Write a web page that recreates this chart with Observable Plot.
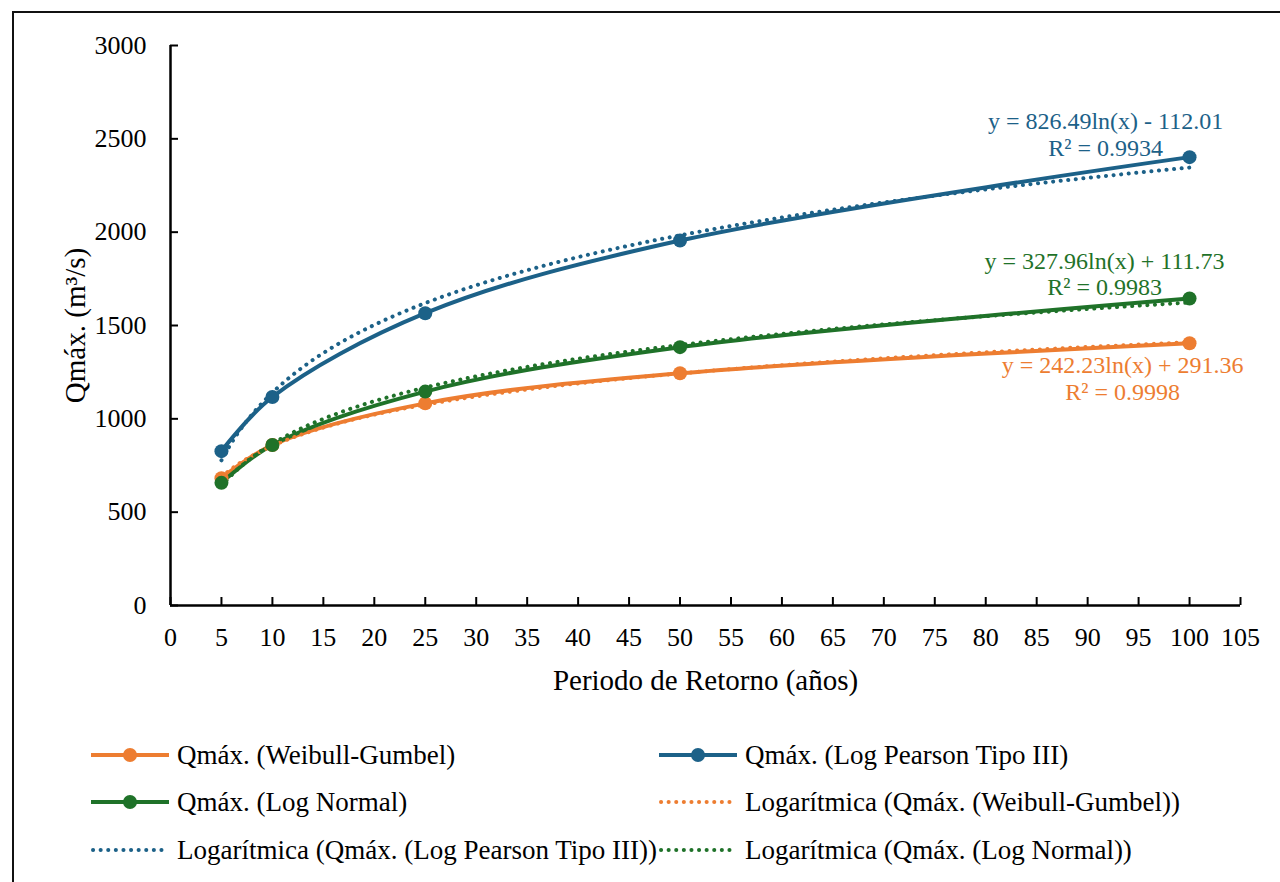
<!DOCTYPE html>
<html><head><meta charset="utf-8">
<script src="https://cdn.jsdelivr.net/npm/d3@7"></script>
<script src="https://cdn.jsdelivr.net/npm/@observablehq/plot@0.6"></script>
<style>
body{margin:0;background:#fff;}
#wrap{position:relative;width:1280px;height:882px;overflow:hidden;background:#fff;font-family:"Liberation Serif","Times New Roman",serif;}
#frame{position:absolute;left:12px;top:11px;right:-10px;bottom:-10px;border-left:2.5px solid #111;border-top:2.5px solid #111;}
#chart{position:absolute;left:0;top:0;}
.item{position:absolute;display:flex;align-items:center;font-size:27px;color:#000;white-space:nowrap;line-height:1;}
.item svg{display:block;}
</style></head><body>
<div id="wrap"><div id="frame"></div><div id="chart"></div><div id="legend"></div></div>
<script>
const periods = [5, 10, 25, 50, 100];
const seriesNames = ["Qmáx. (Weibull-Gumbel)", "Qmáx. (Log Pearson Tipo III)", "Qmáx. (Log Normal)"];
const trendNames = ["Logarítmica (Qmáx. (Weibull-Gumbel))", "Logarítmica (Qmáx. (Log Pearson Tipo III))", "Logarítmica (Qmáx. (Log Normal))"];
const weibullGumbel = [682, 860, 1083, 1244, 1405];
const logPearson = [827, 1117, 1566, 1955, 2402];
const logNormal = [657, 860, 1146, 1384, 1645];
const colors = ["#ED7D31", "#1c6188", "#1f7229"];
const equations = ["y = 242.23ln(x) + 291.36\nR² = 0.9998", "y = 826.49ln(x) - 112.01\nR² = 0.9934", "y = 327.96ln(x) + 111.73\nR² = 0.9983"];
const xTicks = [0, 5, 10, 15, 20, 25, 30, 35, 40, 45, 50, 55, 60, 65, 70, 75, 80, 85, 90, 95, 100, 105];
const yTicks = [0, 500, 1000, 1500, 2000, 2500, 3000];
const xLabel = "Periodo de Retorno (años)";
const yLabel = "Qmáx. (m³/s)";

const seriesValues = [weibullGumbel, logPearson, logNormal];
const points = [];
seriesValues.forEach((vals, i) => periods.forEach((p, j) => points.push({x: p, y: vals[j], s: i})));

// logarithmic trendline: least-squares fit of y on ln(x) of each series' data
function logFit(xs, ys) {
  const lx = xs.map(Math.log);
  const mx = d3.mean(lx), my = d3.mean(ys);
  const sxy = d3.sum(lx, (v, k) => (v - mx) * (ys[k] - my));
  const sxx = d3.sum(lx, v => (v - mx) ** 2);
  const a = sxy / sxx;
  return {a, b: my - a * mx};
}
const trend = [];
seriesValues.forEach((vals, i) => {
  const {a, b} = logFit(periods, vals);
  for (let x = periods[0]; x <= periods[periods.length - 1] + 1e-9; x += 0.5) {
    trend.push({x, y: a * Math.log(x) + b, s: i});
  }
});

const lastPts = seriesValues.map((vals, i) => ({x: periods[periods.length - 1], y: vals[vals.length - 1], s: i, text: equations[i]}));
const eqOffsets = [{dx: -67, dy: 35}, {dx: -84, dy: -23}, {dx: -85, dy: -25}];

const colorOf = d => colors[d.s];

const plot = Plot.plot({
  width: 1280, height: 700,
  marginLeft: 170, marginRight: 40, marginTop: 45, marginBottom: 95,
  x: {domain: [0, 105]},
  y: {domain: [0, 3000]},
  style: {fontFamily: "'Liberation Serif', 'Times New Roman', serif", fontSize: "26px", color: "#000", background: "transparent", overflow: "visible"},
  marks: [
    Plot.axisX({ticks: xTicks, tickSize: -8, tickPadding: 30, tickFormat: d => String(d), label: null, strokeWidth: 2}),
    Plot.axisY({ticks: yTicks, tickSize: -8, tickPadding: 32, tickFormat: d => String(d), label: null, strokeWidth: 2}),
    Plot.ruleY([0], {stroke: "#000", strokeWidth: 2.5}),
    Plot.ruleX([0], {stroke: "#000", strokeWidth: 2.5}),
    Plot.text([xLabel], {frameAnchor: "bottom", dy: 75, text: d => d, fontSize: 29, textAnchor: "middle", lineAnchor: "middle"}),
    Plot.text([yLabel], {frameAnchor: "left", dx: -95, rotate: -90, text: d => d, fontSize: 29, textAnchor: "middle", lineAnchor: "middle"}),
    ...[0, 1, 2].map(i => Plot.line(points.filter(d => d.s === i), {x: "x", y: "y", stroke: colors[i], strokeWidth: 4, curve: "catmull-rom"})),
    ...[0, 1, 2].map(i => Plot.line(trend.filter(d => d.s === i), {x: "x", y: "y", stroke: colors[i], strokeWidth: 4, strokeDasharray: "0.1 7.5", strokeLinecap: "round"})),
    Plot.dot(points, {x: "x", y: "y", fill: colorOf, r: 7, stroke: null}),
    ...[0, 1, 2].map(i => Plot.text([lastPts[i]], {x: "x", y: "y", text: "text", fill: colors[i], fontSize: 24, lineHeight: 1.12, dx: eqOffsets[i].dx, dy: eqOffsets[i].dy, textAnchor: "middle", lineAnchor: "middle"}))
  ]
});
document.getElementById("chart").appendChild(plot);

// Legend
const legendItems = [
  {name: seriesNames[0], color: colors[0], dotted: false, col: 0, row: 0},
  {name: seriesNames[1], color: colors[1], dotted: false, col: 1, row: 0},
  {name: seriesNames[2], color: colors[2], dotted: false, col: 0, row: 1},
  {name: trendNames[0], color: colors[0], dotted: true, col: 1, row: 1},
  {name: trendNames[1], color: colors[1], dotted: true, col: 0, row: 2},
  {name: trendNames[2], color: colors[2], dotted: true, col: 1, row: 2}
];
const colX = [90, 658];
const rowY = [755, 802, 850];
const legend = document.getElementById("legend");
legendItems.forEach(it => {
  const div = document.createElement("div");
  div.className = "item";
  div.style.left = colX[it.col] + "px";
  div.style.top = (rowY[it.row] - 15) + "px";
  div.style.height = "30px";
  const w = 80;
  const sw = it.dotted
    ? `<svg width="${w}" height="20"><line x1="3" y1="10" x2="${w - 4}" y2="10" stroke="${it.color}" stroke-width="4" stroke-dasharray="0.1 7.5" stroke-linecap="round"/></svg>`
    : `<svg width="${w}" height="20"><line x1="1" y1="10" x2="${w - 1}" y2="10" stroke="${it.color}" stroke-width="4"/><circle cx="${w / 2}" cy="10" r="7" fill="${it.color}"/></svg>`;
  div.innerHTML = sw + `<span style="margin-left:7px">${it.name}</span>`;
  legend.appendChild(div);
});
</script>
</body></html>
